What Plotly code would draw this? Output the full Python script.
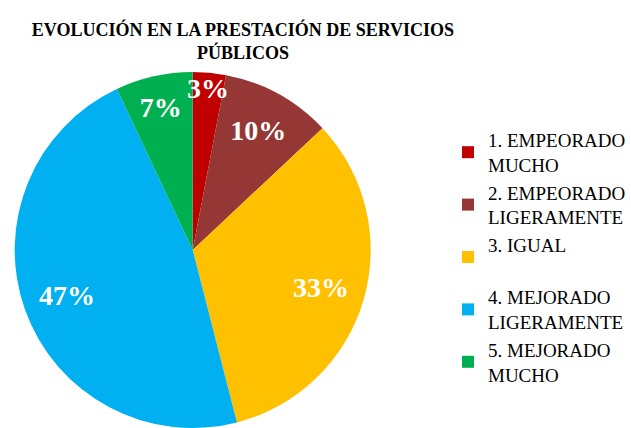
import plotly.graph_objects as go

categories = ["1. EMPEORADO<br>MUCHO", "2. EMPEORADO<br>LIGERAMENTE", "3. IGUAL<br> ",
              "4. MEJORADO<br>LIGERAMENTE", "5. MEJORADO<br>MUCHO"]
values = [3, 10, 33, 47, 7]
colors = ["#C00000", "#953735", "#FFC000", "#00B0F0", "#00B050"]

W, H = 631, 428
dom = dict(x=[12 / W, 374 / W], y=[0, 1 - 72 / H])

# coloured slices
fig = go.Figure(go.Pie(
    labels=categories,
    values=values,
    sort=False,
    direction="clockwise",
    rotation=0,
    marker=dict(colors=colors, line=dict(width=0)),
    textinfo="none",
    domain=dom,
    hoverinfo="label+percent",
))

# transparent ring on top carrying the percentage labels
fig.add_trace(go.Pie(
    labels=categories,
    values=values,
    sort=False,
    direction="clockwise",
    rotation=0,
    hole=0.5,
    marker=dict(colors=["rgba(0,0,0,0)"] * len(values), line=dict(width=0)),
    texttemplate="%{percent:.0%}",
    textposition="inside",
    insidetextorientation="horizontal",
    textfont=dict(family="Liberation Serif", size=28, color="white", weight="bold"),
    domain=dom,
    showlegend=False,
    hoverinfo="skip",
))

fig.update_layout(
    width=W, height=H,
    margin=dict(l=0, r=0, t=0, b=0),
    paper_bgcolor="white",
    plot_bgcolor="white",
    uniformtext=dict(minsize=28, mode="show"),
    title=dict(
        text="EVOLUCIÓN EN LA PRESTACIÓN DE SERVICIOS<br>PÚBLICOS",
        x=243 / W, xanchor="center",
        y=1 - 36 / H, yanchor="top", yref="container",
        font=dict(family="Liberation Serif", size=18, color="black", weight="bold"),
    ),
    legend=dict(
        x=449 / W, xanchor="left",
        y=1 - 121 / H, yanchor="top",
        font=dict(family="Liberation Serif", size=19, color="black"),
        bgcolor="rgba(0,0,0,0)",
        traceorder="normal",
    ),
    showlegend=True,
)

fig.write_html("out.html", config={"displayModeBar": False},
               post_script="document.body.style.margin='0';")
